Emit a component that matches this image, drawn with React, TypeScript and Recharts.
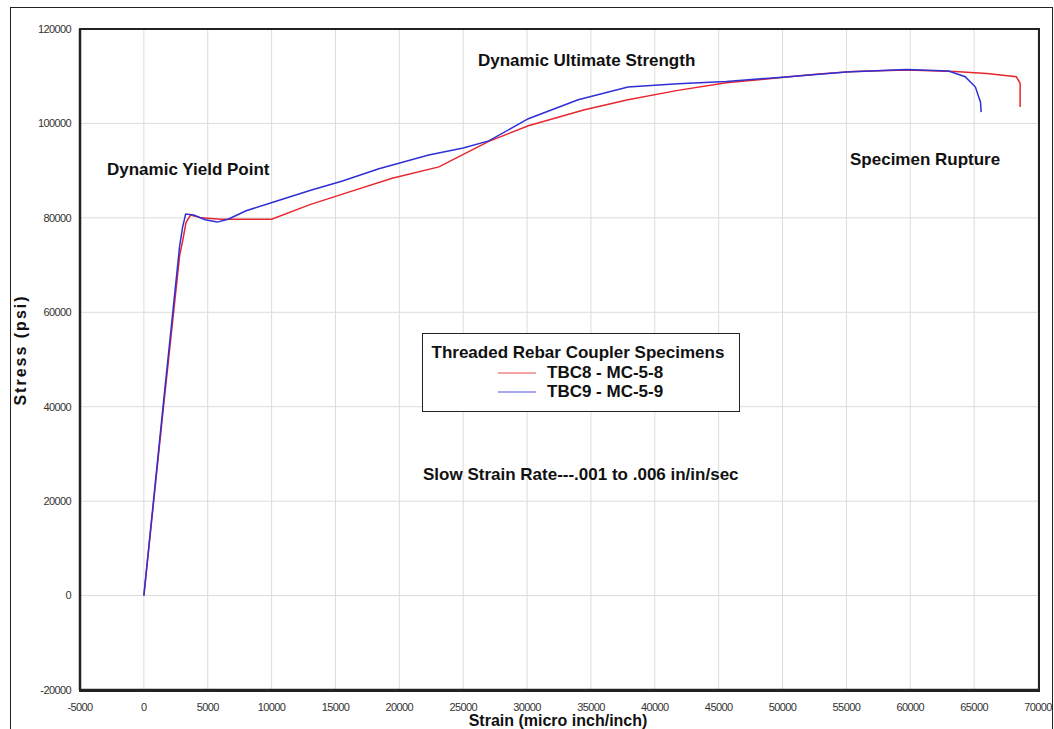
import React from "react";
import { CartesianGrid, Line, LineChart, XAxis, YAxis } from "recharts";

// TBC8 - MC-5-8 (red)
const strainTBC8 = [0, 1500, 2800, 3030, 3300, 3650, 4500, 6000, 8000, 10000, 13000, 16100, 19440, 23100, 27000, 30100, 34500, 37900, 41800, 45600, 49500, 52600, 55500, 59700, 63500, 66000, 68300, 68600, 68600];
const stressTBC8 = [0, 39000, 72000, 75000, 79000, 80600, 80000, 79700, 79700, 79700, 82800, 85500, 88400, 90800, 96200, 99500, 102900, 105000, 107000, 108600, 109600, 110400, 111000, 111300, 111000, 110600, 109900, 108500, 103500];

// TBC9 - MC-5-9 (blue)
const strainTBC9 = [0, 1500, 2800, 3030, 3270, 3900, 4800, 5750, 6600, 8000, 10100, 13000, 15550, 18400, 22300, 25000, 27000, 30100, 34000, 37900, 41800, 45600, 50000, 55000, 59700, 63000, 64300, 65100, 65500, 65550];
const stressTBC9 = [0, 40000, 74000, 78000, 80800, 80600, 79600, 79100, 79700, 81500, 83300, 85800, 87800, 90400, 93300, 94800, 96300, 101000, 105000, 107700, 108400, 108900, 109800, 110900, 111400, 111100, 109900, 107700, 104500, 102400];

const xTicks = [-5000, 0, 5000, 10000, 15000, 20000, 25000, 30000, 35000, 40000, 45000, 50000, 55000, 60000, 65000, 70000];
const yTicks = [-20000, 0, 20000, 40000, 60000, 80000, 100000, 120000];

const toPoints = (xs: number[], ys: number[]) => xs.map((x, i) => ({ x, y: ys[i] }));
const tbc8 = toPoints(strainTBC8, stressTBC8);
const tbc9 = toPoints(strainTBC9, stressTBC9);

const bold: React.CSSProperties = {
  position: "absolute",
  fontFamily: "Arial, 'Liberation Sans', sans-serif",
  fontWeight: "bold",
  fontSize: 17,
  color: "#111",
  whiteSpace: "nowrap",
  lineHeight: 1,
};

const tickStyle = { fontSize: 11, fill: "#333", fontFamily: "Arial, 'Liberation Sans', sans-serif", letterSpacing: -0.6 };

// x tick drawn at the scale's own coordinate (no edge nudging)
const XTick = (props: any) => {
  const { payload, y } = props;
  const cx = payload.coordinate ?? props.x;
  return (
    <text x={cx} y={y + 13} textAnchor="middle" {...tickStyle}>
      {payload.value}
    </text>
  );
};

export default function App() {
  return (
    <div style={{ position: "absolute", left: 0, top: 0, width: 1054, height: 729, background: "#fff", overflow: "hidden" }}>
      {/* outer frame */}
      <div style={{ position: "absolute", left: 10, top: 7, width: 1041, height: 740, border: "1.5px solid #222" }} />
      <LineChart width={1054} height={729} margin={{ top: 29, right: 16, left: 0, bottom: 0 }} style={{ position: "absolute", left: 0, top: 0 }}>
        <CartesianGrid stroke="#dcdcdc" strokeWidth={1} />
        <XAxis
          type="number"
          dataKey="x"
          domain={[-5000, 70000]}
          ticks={xTicks}
          interval={0}
          allowDataOverflow
          height={39}
          tickLine={false}
          axisLine={{ stroke: "#222", strokeWidth: 2.5 }}
          tick={<XTick />}
        />
        <YAxis
          type="number"
          dataKey="y"
          domain={[-20000, 120000]}
          ticks={yTicks}
          interval={0}
          allowDataOverflow
          width={80}
          tickLine={false}
          axisLine={{ stroke: "#222", strokeWidth: 2.5 }}
          tick={tickStyle}
          tickMargin={3}
        />
        <Line data={tbc8} dataKey="y" name="TBC8 - MC-5-8" stroke="#e8262e" strokeWidth={1.5} dot={false} isAnimationActive={false} />
        <Line data={tbc9} dataKey="y" name="TBC9 - MC-5-9" stroke="#2f2fd6" strokeWidth={1.5} dot={false} isAnimationActive={false} />
      </LineChart>
      {/* plot frame top/right */}
      <div style={{ position: "absolute", left: 79, top: 28, width: 957, height: 660, border: "2px solid #222", pointerEvents: "none" }} />

      {/* axis titles */}
      <div style={{ ...bold, fontSize: 16, letterSpacing: 2, left: 21, top: 350, transform: "translate(-50%, -50%) rotate(-90deg)" }}>Stress (psi)</div>
      <div style={{ ...bold, fontSize: 16, left: 558, top: 721, transform: "translate(-50%, -50%)" }}>Strain (micro inch/inch)</div>

      {/* annotations */}
      <div style={{ ...bold, left: 107, top: 161 }}>Dynamic Yield Point</div>
      <div style={{ ...bold, left: 478, top: 52 }}>Dynamic Ultimate Strength</div>
      <div style={{ ...bold, left: 850, top: 151 }}>Specimen Rupture</div>
      <div style={{ ...bold, left: 423, top: 466 }}>Slow Strain Rate---.001 to .006 in/in/sec</div>

      {/* legend */}
      <div style={{ position: "absolute", left: 422, top: 333, width: 316, height: 77, border: "1.5px solid #222", background: "#fff" }}>
        <div style={{ ...bold, left: 8.5, top: 10 }}>Threaded Rebar Coupler Specimens</div>
        <div style={{ position: "absolute", left: 75, top: 37.5, width: 38, height: 2, background: "#f6a3a6" }} />
        <div style={{ ...bold, left: 124, top: 30 }}>TBC8 - MC-5-8</div>
        <div style={{ position: "absolute", left: 75, top: 56.5, width: 38, height: 2, background: "#a7a7f2" }} />
        <div style={{ ...bold, left: 124, top: 49 }}>TBC9 - MC-5-9</div>
      </div>
    </div>
  );
}
